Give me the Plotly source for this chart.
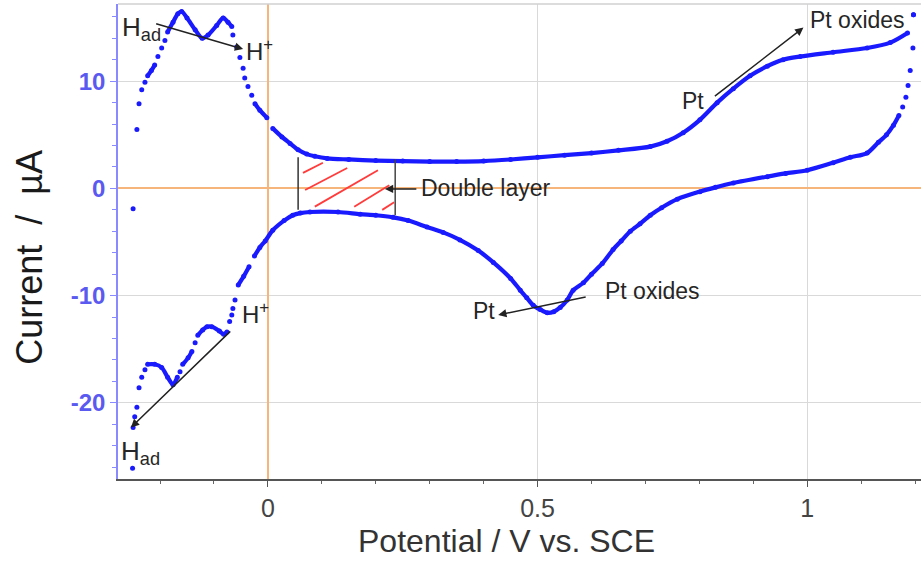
import plotly.graph_objects as go

# ---------------- data ----------------
anodic_x = [-0.250, -0.243, -0.239, -0.234, -0.228, -0.223, -0.216, -0.210, -0.204, -0.197,
            -0.191, -0.186, -0.176, -0.167, -0.160, -0.150, -0.135, -0.122, -0.111, -0.095,
            -0.083, -0.074, -0.067, -0.065, -0.058, -0.052, -0.046, -0.043, -0.037, -0.030,
            -0.024, -0.015, -0.002, 0.009, 0.026, 0.041, 0.056, 0.072, 0.087, 0.11,
            0.15, 0.20, 0.25, 0.30, 0.35, 0.40, 0.45, 0.50, 0.55, 0.60,
            0.65, 0.709, 0.74, 0.77, 0.801, 0.833, 0.863, 0.894, 0.926, 0.955,
            0.987, 1.048, 1.111, 1.154, 1.186, 1.197]
anodic_y = [-1.9, 5.5, 7.9, 9.2, 9.9, 10.5, 11.0, 11.5, 12.3, 13.1,
            13.8, 14.6, 15.5, 16.3, 16.5, 15.9, 14.8, 14.0, 14.3, 15.2,
            15.9, 15.5, 15.1, 14.3, 13.2, 12.2, 11.2, 10.3, 9.5, 8.7,
            7.9, 7.3, 6.6, 5.6, 4.8, 4.2, 3.6, 3.2, 3.0, 2.8,
            2.7, 2.6, 2.55, 2.5, 2.5, 2.55, 2.7, 2.9, 3.1, 3.3,
            3.55, 3.9, 4.4, 5.2, 6.4, 8.0, 9.3, 10.5, 11.4, 12.0,
            12.3, 12.7, 13.1, 13.6, 14.5, 16.2]

cathodic_x = [1.197, 1.196, 1.191, 1.187, 1.183, 1.177, 1.170, 1.160, 1.147, 1.132,
              1.111, 1.08, 1.048, 1.0, 0.96, 0.926, 0.863, 0.83, 0.801, 0.759,
              0.73, 0.709, 0.69, 0.672, 0.655, 0.640, 0.62, 0.60, 0.585, 0.566,
              0.555, 0.542, 0.53, 0.518, 0.505, 0.492, 0.48, 0.468, 0.45, 0.418,
              0.39, 0.356, 0.325, 0.295, 0.26, 0.232, 0.20, 0.171, 0.13, 0.078,
              0.06, 0.046, 0.03, 0.009, -0.005, -0.015, -0.025, -0.035, -0.045, -0.055,
              -0.061, -0.065, -0.067, -0.071, -0.076, -0.082, -0.090, -0.104, -0.113, -0.121,
              -0.130, -0.135, -0.141, -0.148, -0.158, -0.163, -0.168, -0.176, -0.186, -0.197,
              -0.210, -0.223, -0.228, -0.234, -0.239, -0.243, -0.247, -0.250, -0.251]
cathodic_y = [16.2, 13.1, 11.0, 9.6, 8.5, 7.6, 6.8, 5.9, 5.0, 4.3,
              3.3, 2.9, 2.4, 1.7, 1.4, 1.1, 0.5, 0.1, -0.3, -1.0,
              -1.8, -2.5, -3.3, -4.0, -4.9, -5.7, -7.0, -8.0, -8.8, -9.5,
              -10.4, -11.1, -11.5, -11.6, -11.3, -10.9, -10.2, -9.5, -8.4, -6.9,
              -5.8, -4.8, -4.1, -3.6, -3.0, -2.7, -2.5, -2.4, -2.2, -2.2,
              -2.3, -2.5, -3.0, -3.9, -4.9, -5.5, -6.3, -7.3, -8.2, -9.0,
              -10.4, -11.2, -11.8, -12.4, -13.4, -13.6, -13.3, -12.9, -12.9, -13.2,
              -13.7, -14.4, -15.2, -15.8, -16.4, -17.1, -17.6, -18.3, -17.6, -16.7,
              -16.4, -16.4, -16.9, -17.6, -18.6, -20.4, -21.3, -22.3, -26.1]

x_tick_vals = [0, 0.5, 1]
x_tick_text = ["0", "0.5", "1"]
y_tick_vals = [-20, -10, 0, 10]
y_tick_text = ["-20", "-10", "0", "10"]

X_RANGE = [-0.278, 1.211]
Y_RANGE = [-27.1, 17.2]

BLUE = "#1a1aff"
PX_PER_X = 539.0
PX_PER_Y = 10.73


def line_with_gaps(xs, ys, max_slope=1.8):
    """Solid line where the sweep is slow; steep parts are left as dots."""
    lx, ly = [xs[0]], [ys[0]]
    for i in range(1, len(xs)):
        dx = abs(xs[i] - xs[i - 1]) * PX_PER_X
        dy = abs(ys[i] - ys[i - 1]) * PX_PER_Y
        if dx == 0 or dy / dx > max_slope:
            lx.append(None)
            ly.append(None)
        lx.append(xs[i])
        ly.append(ys[i])
    return lx, ly


fig = go.Figure()
for xs, ys in [(anodic_x, anodic_y), (cathodic_x, cathodic_y)]:
    lx, ly = line_with_gaps(xs, ys)
    fig.add_trace(go.Scatter(x=lx, y=ly, mode="lines", connectgaps=False,
                             line=dict(color=BLUE, width=4.2, shape="spline", smoothing=0.8),
                             hoverinfo="skip"))
    fig.add_trace(go.Scatter(x=xs, y=ys, mode="markers",
                             marker=dict(color=BLUE, size=5, line=dict(width=0))))

ANN_FONT = dict(family="Liberation Sans, Arial, sans-serif", size=23, color="#262626")
H_FONT = dict(family="Liberation Sans, Arial, sans-serif", size=26, color="#262626")

annotations = []


def arrow(x_head, y_head, x_tail, y_tail):
    annotations.append(dict(x=x_head, y=y_head, ax=x_tail, ay=y_tail,
                            xref="x", yref="y", axref="x", ayref="y",
                            text="", showarrow=True, arrowhead=2, arrowsize=1.1,
                            arrowwidth=1.5, arrowcolor="#222222"))


def label(x, y, text, font, xanchor="left"):
    annotations.append(dict(x=x, y=y, xref="x", yref="y", text=text, showarrow=False,
                            font=font, xanchor=xanchor, yanchor="middle"))


# hydrogen region labels
label(-0.274, 14.9, "H<sub>ad</sub>", H_FONT)
arrow(-0.046, 13.0, -0.210, 15.4)
label(-0.045, 12.9, "H<sup>+</sup>", dict(H_FONT, size=24))
label(-0.052, -11.6, "H<sup>+</sup>", dict(H_FONT, size=24))
arrow(-0.254, -22.3, -0.067, -13.2)
label(-0.277, -24.6, "H<sub>ad</sub>", H_FONT)

# double layer
arrow(0.217, -0.05, 0.278, -0.05)
label(0.281, 0.0, "Double layer", ANN_FONT)

# Pt / Pt oxides (anodic)
label(0.789, 8.2, "Pt", ANN_FONT, xanchor="center")
arrow(0.993, 15.0, 0.826, 8.5)
label(1.001, 15.7, "Pt oxides", ANN_FONT)

# Pt oxides / Pt (cathodic)
label(0.400, -11.4, "Pt", ANN_FONT, xanchor="center")
arrow(0.427, -11.8, 0.592, -10.1)
label(0.621, -9.6, "Pt oxides", ANN_FONT)

# axis titles
annotations.append(dict(x=0.484, y=-0.130, xref="paper", yref="paper",
                        text="Potential / V vs. SCE", showarrow=False,
                        font=dict(family="Liberation Sans, Arial, sans-serif", size=32, color="#333333"),
                        xanchor="center", yanchor="middle"))
annotations.append(dict(x=-0.110, y=0.467, xref="paper", yref="paper",
                        text="Current  /  µA", showarrow=False, textangle=-90,
                        font=dict(family="Liberation Sans, Arial, sans-serif", size=36, color="#1a1a1a"),
                        xanchor="center", yanchor="middle"))

shapes = []
# double-layer bounds
shapes.append(dict(type="line", xref="x", yref="y", x0=0.056, x1=0.056, y0=-2.0, y1=2.9,
                   line=dict(color="#333333", width=1.5)))
shapes.append(dict(type="line", xref="x", yref="y", x0=0.236, x1=0.236, y0=-2.5, y1=2.7,
                   line=dict(color="#444444", width=1.5)))
# red hatching
for (xa, ya, xb, yb) in [(0.065, 1.45, 0.102, 2.4), (0.069, -0.15, 0.147, 1.9),
                         (0.087, -1.7, 0.204, 1.7), (0.160, -1.7, 0.225, 0.3),
                         (0.212, -2.0, 0.234, -1.3)]:
    shapes.append(dict(type="line", xref="x", yref="y", x0=xa, y0=ya, x1=xb, y1=yb,
                       line=dict(color="#ff3b3b", width=1.8)))
# top frame line
shapes.append(dict(type="line", xref="paper", yref="paper", x0=0, x1=1, y0=1, y1=1,
                   line=dict(color="#d0d0d0", width=1.5)))

fig.update_layout(
    width=921, height=561,
    margin=dict(l=118, r=0, t=4, b=82),
    paper_bgcolor="white", plot_bgcolor="white",
    showlegend=False,
    annotations=annotations, shapes=shapes,
    xaxis=dict(range=X_RANGE, tickvals=x_tick_vals, ticktext=x_tick_text,
               ticks="outside", ticklen=6, tickcolor="#555555",
               tickfont=dict(family="Liberation Sans, Arial, sans-serif", size=25, color="#444444"),
               showline=True, linecolor="#555555", linewidth=1.5,
               showgrid=True, gridcolor="#d9d9d9", gridwidth=1.2,
               zeroline=True, zerolinecolor="#f6b57a", zerolinewidth=1.8,
               minor=dict(dtick=0.1, tick0=0, ticks="outside", ticklen=3, tickcolor="#666666",
                          showgrid=False),
               fixedrange=True),
    yaxis=dict(range=Y_RANGE, tickvals=y_tick_vals, ticktext=y_tick_text,
               ticks="outside", ticklen=6, tickcolor="#8a8aff",
               tickfont=dict(family="Liberation Sans, Arial, sans-serif", size=24,
                             color="#5a5af0", weight="bold"),
               showline=True, linecolor="#8a8aff", linewidth=1.5,
               showgrid=True, gridcolor="#d9d9d9", gridwidth=1.2,
               zeroline=True, zerolinecolor="#f6b57a", zerolinewidth=1.8,
               minor=dict(dtick=2, tick0=0, ticks="outside", ticklen=4, tickcolor="#8a8aff",
                          showgrid=False),
               fixedrange=True),
)

fig.write_html("out.html")
